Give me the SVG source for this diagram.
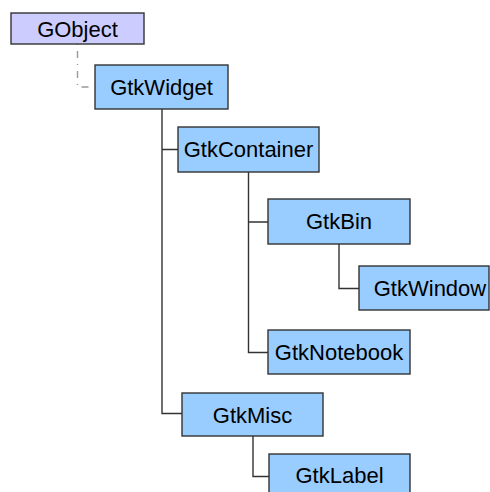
<svg xmlns="http://www.w3.org/2000/svg" width="490" height="492" viewBox="0 0 490 492">
  <style>
    .box { fill: #99ccff; stroke: #333333; stroke-width: 1.4; }
    .root { fill: #ccccff; stroke: #333333; stroke-width: 1.4; }
    .lbl { font-family: "Liberation Sans", Arial, sans-serif; font-size: 22px; fill: #000000; text-anchor: middle; }
    .link { fill: none; stroke: #333333; stroke-width: 1.4; }
    .weak { fill: none; stroke: #999999; stroke-width: 1.4; stroke-dasharray: 1 6 7 6; }
  </style>
  <rect width="490" height="492" fill="#ffffff"/>

  <g id="connectors">
    <path class="weak" d="M77.5 44 V87 H89"/>
    <path class="link" d="M162 109 V413.5 H182 M162 149.5 H178"/>
    <path class="link" d="M248.5 172 V352.5 H268 M248.5 222 H268"/>
    <path class="link" d="M339 244 V288.5 H359"/>
    <path class="link" d="M253 436 V476.5 H269"/>
  </g>

  <g id="GObject">
    <rect class="root" x="11" y="13" width="133" height="31"/>
    <text class="lbl" x="77.5" y="37">GObject</text>
  </g>
  <g id="GtkWidget">
    <rect class="box" x="95" y="65" width="133" height="44"/>
    <text class="lbl" x="161.5" y="95">GtkWidget</text>
  </g>
  <g id="GtkContainer">
    <rect class="box" x="178" y="127" width="141" height="45"/>
    <text class="lbl" x="248.5" y="157">GtkContainer</text>
  </g>
  <g id="GtkBin">
    <rect class="box" x="268" y="199" width="142" height="45"/>
    <text class="lbl" x="339" y="229">GtkBin</text>
  </g>
  <g id="GtkWindow">
    <rect class="box" x="359" y="266" width="130" height="44"/>
    <text class="lbl" x="430" y="296">GtkWindow</text>
  </g>
  <g id="GtkNotebook">
    <rect class="box" x="268" y="330" width="142" height="44"/>
    <text class="lbl" x="339" y="360">GtkNotebook</text>
  </g>
  <g id="GtkMisc">
    <rect class="box" x="182" y="393" width="141" height="43"/>
    <text class="lbl" x="252.5" y="423">GtkMisc</text>
  </g>
  <g id="GtkLabel">
    <rect class="box" x="269" y="454" width="141" height="44"/>
    <text class="lbl" x="339.5" y="483">GtkLabel</text>
  </g>
</svg>
